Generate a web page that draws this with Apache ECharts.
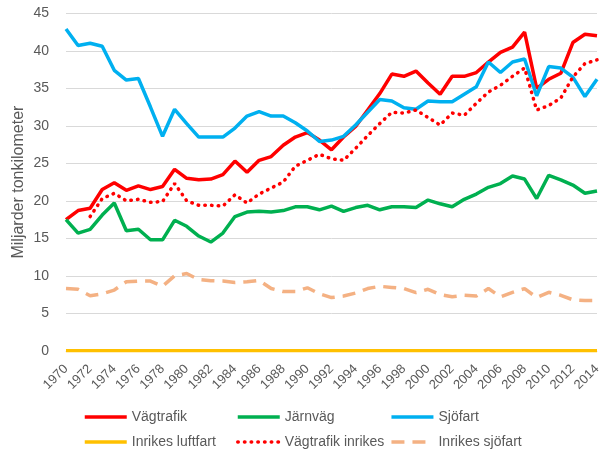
<!DOCTYPE html>
<html>
<head>
<meta charset="utf-8">
<script src="https://cdn.jsdelivr.net/npm/echarts@6/dist/echarts.min.js"></script>
<style>html,body{margin:0;padding:0;background:#fff}#c{width:600px;height:454px}</style>
</head>
<body>
<div id="c"></div>
<script>
var years = [];
for (var y = 1970; y <= 2014; y++) years.push(String(y));

var vagtrafik = [17.5, 18.7, 19.0, 21.5, 22.4, 21.4, 22.0, 21.5, 21.9, 24.2,
  23.0, 22.8, 22.9, 23.5, 25.3, 23.8, 25.4, 25.9, 27.4, 28.5,
  29.1, 28.1, 26.8, 28.5, 29.9, 32.1, 34.3, 36.9, 36.6, 37.3,
  35.7, 34.2, 36.6, 36.6, 37.1, 38.5, 39.8, 40.5, 42.5, 35.0,
  36.2, 37.0, 41.1, 42.2, 42.0];
var jarnvag = [17.5, 15.7, 16.2, 18.1, 19.7, 16.0, 16.2, 14.8, 14.8, 17.4,
  16.6, 15.3, 14.5, 15.7, 17.9, 18.5, 18.6, 18.5, 18.7, 19.2,
  19.2, 18.8, 19.3, 18.6, 19.1, 19.4, 18.8, 19.2, 19.2, 19.1,
  20.1, 19.6, 19.2, 20.2, 20.9, 21.8, 22.3, 23.3, 22.9, 20.3,
  23.4, 22.8, 22.1, 21.0, 21.3];
var sjofart = [42.9, 40.7, 41.0, 40.6, 37.4, 36.1, 36.3, 32.5, 28.6, 32.2,
  30.3, 28.5, 28.5, 28.5, 29.7, 31.3, 31.9, 31.3, 31.3, 30.4,
  29.3, 27.9, 28.1, 28.6, 30.1, 31.8, 33.5, 33.3, 32.4, 32.2,
  33.3, 33.2, 33.2, 34.2, 35.2, 38.5, 37.1, 38.5, 38.9, 34.0,
  37.9, 37.7, 36.5, 33.9, 36.2];
var inrikesLuftfart = [0, 0, 0, 0, 0, 0, 0, 0, 0, 0,
  0, 0, 0, 0, 0, 0, 0, 0, 0, 0,
  0, 0, 0, 0, 0, 0, 0, 0, 0, 0,
  0, 0, 0, 0, 0, 0, 0, 0, 0, 0,
  0, 0, 0, 0, 0];
var vagtrafikInrikes = [null, null, 17.9, 20.3, 21.0, 20.0, 20.2, 19.8, 19.9, 22.3,
  20.0, 19.4, 19.4, 19.3, 20.8, 19.7, 20.9, 21.7, 22.5, 24.6,
  25.4, 26.2, 25.6, 25.4, 27.0, 28.7, 30.3, 31.8, 31.7, 32.1,
  31.1, 30.1, 31.7, 31.4, 33.0, 34.5, 35.4, 36.6, 37.7, 32.1,
  32.7, 33.7, 36.5, 38.3, 38.8];
var inrikesSjofart = [8.3, 8.2, 7.35, 7.6, 8.1, 9.2, 9.3, 9.3, 8.6, 10.0,
  10.3, 9.5, 9.35, 9.3, 9.1, 9.2, 9.4, 8.3, 7.9, 7.9,
  8.4, 7.6, 7.1, 7.3, 7.7, 8.3, 8.6, 8.45, 8.3, 7.75,
  8.2, 7.5, 7.2, 7.4, 7.3, 8.3, 7.2, 7.8, 8.3, 7.1,
  7.8, 7.4, 6.8, 6.7, 6.7];

var yTicks = [0, 5, 10, 15, 20, 25, 30, 35, 40, 45];
var names = ['Vägtrafik', 'Järnväg', 'Sjöfart', 'Inrikes luftfart', 'Vägtrafik inrikes', 'Inrikes sjöfart'];
var yTitle = 'Miljarder tonkilometer';

var FONT = 'Liberation Sans, Arial, sans-serif';
var TXT = '#595959';

function line(name, data, color, width, extra) {
  var ls = { color: color, width: width };
  if (extra) for (var k in extra) ls[k] = extra[k];
  return {
    name: name, type: 'line', data: data, symbol: 'none', showSymbol: false,
    itemStyle: { color: color }, lineStyle: ls, connectNulls: false, animation: false
  };
}

var legendLefts = [83, 236, 389.7];
var legendTops = [410, 435];
var legends = names.map(function (n, i) {
  return {
    left: legendLefts[i % 3], top: legendTops[Math.floor(i / 3)], padding: 0,
    itemWidth: 42, itemHeight: 14, itemGap: 0,
    itemStyle: { opacity: 0 },
    lineStyle: { width: 3.5 },
    textStyle: { fontFamily: FONT, fontSize: 14, color: TXT },
    data: [n]
  };
});

var chart = echarts.init(document.getElementById('c'), null, { renderer: 'canvas' });
chart.setOption({
  animation: false,
  backgroundColor: '#ffffff',
  grid: { left: 66, right: 3, top: 13.3, bottom: 103.2, containLabel: false, outerBoundsMode: 'none' },
  legend: legends,
  xAxis: {
    type: 'category', data: years, boundaryGap: false,
    axisLine: { show: true, lineStyle: { color: '#D9D9D9', width: 1 } },
    axisTick: { show: false },
    axisLabel: { interval: 1, rotate: 45, margin: 16, fontFamily: FONT, fontSize: 13, color: TXT }
  },
  yAxis: {
    type: 'value', min: yTicks[0], max: yTicks[yTicks.length - 1], interval: 5,
    name: yTitle, nameLocation: 'middle', nameGap: 39, nameRotate: 90, nameMoveOverlap: false,
    nameTextStyle: { fontFamily: FONT, fontSize: 16, color: TXT },
    axisLine: { show: false }, axisTick: { show: false },
    axisLabel: { margin: 17, fontFamily: FONT, fontSize: 14, color: TXT },
    splitLine: { lineStyle: { color: '#D9D9D9', width: 1 } }
  },
  series: [
    line(names[0], vagtrafik, '#FF0000', 3.5),
    line(names[1], jarnvag, '#00B050', 3.5),
    line(names[2], sjofart, '#00B0F0', 3.5),
    line(names[3], inrikesLuftfart, '#FFC000', 3.5),
    line(names[4], vagtrafikInrikes, '#FF0000', 3.5, { type: [0.5, 6.2], cap: 'round' }),
    line(names[5], inrikesSjofart, '#F4B183', 3.5, { type: [13, 8] })
  ]
});
</script>
</body>
</html>
